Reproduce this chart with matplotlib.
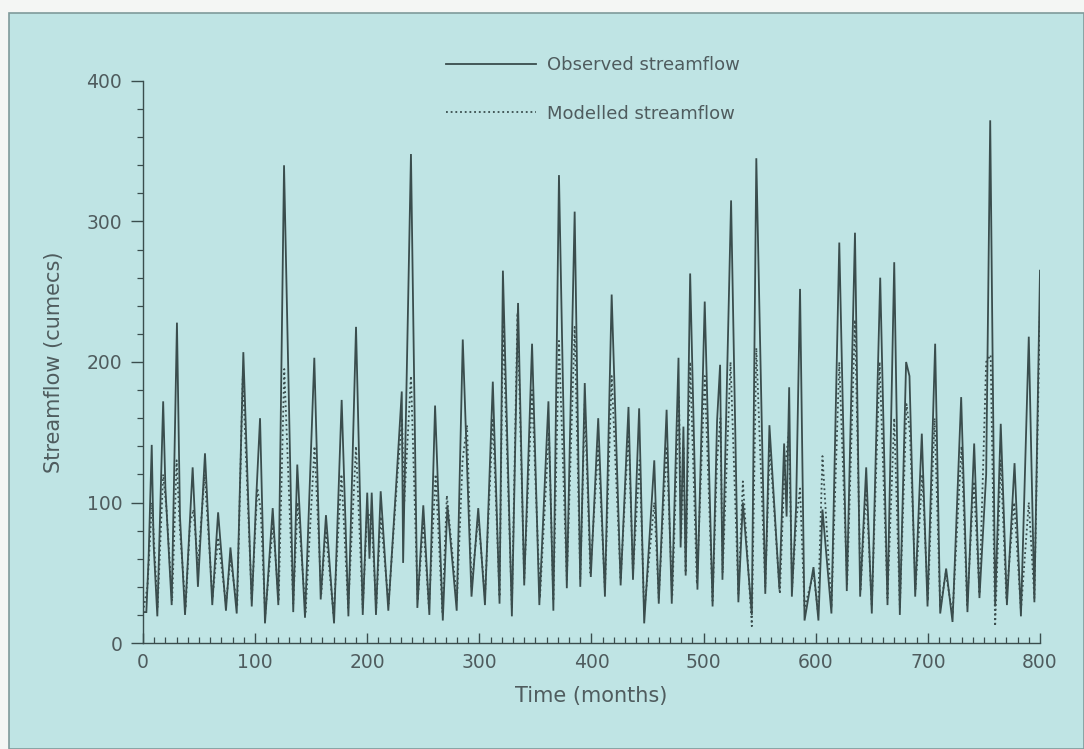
import matplotlib
matplotlib.use("Agg")
import matplotlib.pyplot as plt
from matplotlib.patches import Rectangle
from matplotlib.ticker import MultipleLocator

# ---------------- data ----------------
obs_month = [0, 3, 5, 7.8, 9.5, 12.8, 18, 20, 25.6, 30.3, 33, 37.5, 44.3, 49, 55.3, 61.8,
             67, 74, 78, 83.6, 89.5, 97, 100.8, 104.4, 108.8, 115.7, 120.7, 125.8, 134,
             137.6, 144.5, 152.8, 158.5, 163.2, 170.4, 177.2, 183.2, 190, 196, 200, 202,
             204, 207.8, 212, 218.8, 226, 230.8, 232, 239, 244.7, 250, 255.4, 260.5, 267.4,
             271.5, 279.8, 285.2, 293, 299, 305, 312, 318, 321, 329, 334.5, 340, 347, 353.5,
             361.6, 366, 371, 378, 385, 390, 394, 399.4, 406, 412, 418, 426, 433, 437, 442.5,
             447, 456, 460, 467, 471.6, 477.6, 479.5, 482, 484, 488, 494.5, 501, 508, 512,
             514.7, 516.8, 524.5, 531, 535, 543, 547, 555, 558.7, 567.6, 571.8, 574, 576.3,
             578.7, 582.5, 586, 590, 598, 602.4, 606, 614, 621, 627.7, 635, 639.6, 645, 650,
             657.5, 664, 670, 675, 680.6, 683.6, 688.7, 694.6, 699.7, 706.5, 711, 716.3, 722,
             729.7, 735.3, 741.3, 746, 752, 755.6, 760, 765, 770.5, 777.3, 783, 790, 795, 800]
obs_flow = [22, 22, 60, 141, 70, 19, 172, 110, 27, 228, 90, 20, 125, 40, 135, 27,
            93, 23, 68, 21, 207, 26, 100, 160, 14, 96, 27, 340, 22,
            127, 18, 203, 31, 91, 14, 173, 19, 225, 20, 107, 60,
            107, 20, 108, 23, 115, 179, 57, 348, 25, 98, 20, 169, 16,
            98, 23, 216, 33, 96, 27, 186, 28, 265, 19, 242, 41, 213, 27,
            172, 23, 333, 39, 307, 40, 185, 47, 160, 33, 248, 41, 168, 45, 167,
            14, 130, 28, 166, 28, 203, 68, 154, 48, 263, 38, 243, 26, 158,
            198, 45, 315, 29, 100, 20, 345, 35, 155, 38, 142, 90, 182,
            33, 97, 252, 16, 54, 16, 95, 21, 285, 37, 292, 33, 125, 21,
            260, 27, 271, 20, 200, 190, 33, 149, 26, 213, 21, 53, 15,
            175, 22, 142, 32, 120, 372, 26, 156, 27, 128, 19, 218, 29, 265]

mod_month = [0, 4, 8, 10, 13, 18, 21, 26, 30, 33, 38, 42, 45, 49, 55, 62, 67, 74, 78, 84,
             89, 97, 102, 105, 109, 116, 121, 126, 134, 138, 145, 153, 159, 163, 170, 177,
             183, 190, 196, 200, 204, 208, 212, 219, 227, 231, 233, 239, 245, 250, 255, 261,
             267, 271, 280, 285, 289, 293, 299, 305, 312, 318, 321, 329, 334, 340, 347, 354,
             362, 366, 371, 378, 385, 390, 394, 399, 406, 412, 418, 426, 433, 437, 443, 447,
             456, 460, 467, 472, 478, 480, 482, 484, 488, 494, 501, 508, 512, 515, 517, 524,
             531, 535, 543, 547, 555, 559, 568, 572, 576, 579, 583, 586, 590, 598, 602, 606,
             614, 621, 628, 635, 640, 645, 650, 657, 664, 670, 675, 681, 684, 689, 695, 700,
             706, 711, 716, 722, 730, 735, 741, 746, 752, 756, 760, 765, 770, 777, 783, 790,
             795, 800]
mod_flow = [22, 40, 100, 70, 25, 120, 95, 30, 130, 80, 25, 85, 95, 55, 120, 32, 75, 28, 60, 26,
            190, 30, 110, 95, 20, 85, 30, 195, 28, 100, 22, 140, 35, 80, 20, 120,
            25, 140, 25, 95, 85, 25, 90, 28, 120, 160, 100, 190, 30, 85, 25, 120,
            22, 105, 30, 130, 155, 40, 90, 33, 160, 33, 230, 25, 235, 45, 180, 32,
            150, 30, 215, 45, 225, 45, 170, 50, 140, 38, 190, 45, 150, 50, 130, 22,
            100, 32, 140, 33, 175, 75, 140, 50, 200, 42, 190, 30, 130, 160, 50, 200,
            35, 115, 12, 210, 40, 140, 35, 120, 150, 40, 90, 110, 25, 50, 22, 133,
            25, 200, 42, 230, 38, 110, 26, 200, 32, 160, 25, 170, 150, 38, 120, 30,
            160, 25, 50, 20, 140, 27, 115, 35, 200, 205, 12, 130, 32, 100, 23, 100,
            32, 240]

x_ticks = [0, 100, 200, 300, 400, 500, 600, 700, 800]
y_ticks = [0, 100, 200, 300, 400]
labels = ["Observed streamflow", "Modelled streamflow"]

# ---------------- styling ----------------
BG = "#bfe4e4"
INK = "#3a4d4d"
TXT = "#4f5c5e"
FONT = ["DejaVu Sans"]

plt.rcParams["font.family"] = FONT

fig = plt.figure(figsize=(10.84, 7.49), dpi=100, facecolor="#f4f6f4")
fig.patches.append(Rectangle((0.008, 0.0), 0.992, 0.982, transform=fig.transFigure,
                             facecolor=BG, edgecolor="#7f9a9a", linewidth=1.2, zorder=-10))

ax = fig.add_axes([0.1319, 0.1415, 0.8275, 0.7504])
ax.set_facecolor("none")

ax.plot(obs_month, obs_flow, color=INK, linewidth=1.3, solid_joinstyle="miter",
        label=labels[0], zorder=3)
ax.plot(mod_month, mod_flow, color=INK, linewidth=1.3, linestyle=(0, (1, 1.6)),
        label=labels[1], zorder=2)

ax.set_xlim(0, 800)
ax.set_ylim(0, 400)

for s in ["top", "right"]:
    ax.spines[s].set_visible(False)
for s in ["left", "bottom"]:
    ax.spines[s].set_color(INK)
    ax.spines[s].set_linewidth(1.0)

ax.set_xticks(x_ticks)
ax.set_yticks(y_ticks)
ax.xaxis.set_minor_locator(MultipleLocator(10))
ax.yaxis.set_minor_locator(MultipleLocator(20))
ax.tick_params(axis="x", which="major", direction="in", length=7, width=1.0,
               color=INK, labelcolor=TXT, labelsize=13.5, pad=7)
ax.tick_params(axis="x", which="minor", direction="in", length=4, width=0.9, color=INK)
ax.tick_params(axis="y", which="major", direction="out", length=9, width=1.0,
               color=INK, labelcolor=TXT, labelsize=13.5, pad=6)
ax.tick_params(axis="y", which="minor", direction="out", length=4, width=0.9, color=INK)

ax.set_xlabel("Time (months)", fontsize=15, color=TXT, labelpad=10)
ax.set_ylabel("Streamflow (cumecs)", fontsize=15, color=TXT, labelpad=16)

leg = fig.legend(loc="upper left", bbox_to_anchor=(0.396, 0.947), frameon=False,
                 fontsize=13, handlelength=5.0, handletextpad=0.6, labelspacing=1.7)
for t in leg.get_texts():
    t.set_color(TXT)

fig.savefig("out.png", dpi=100, facecolor=fig.get_facecolor())
